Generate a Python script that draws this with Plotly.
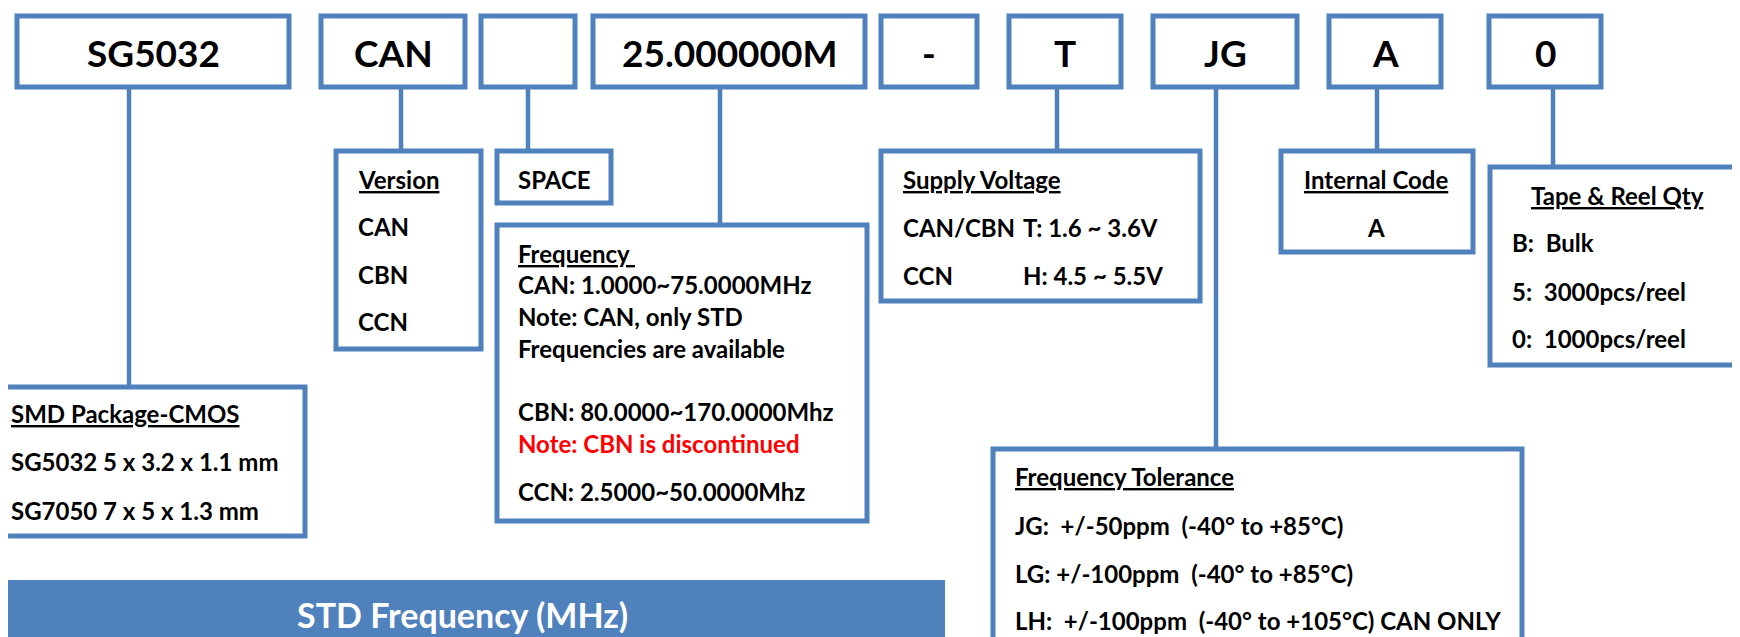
import plotly.graph_objects as go

# ---------------- content (text values) ----------------
code_labels = ["SG5032", "CAN", "", "25.000000M", "-", "T", "JG", "A", "0"]

package_title = "SMD Package-CMOS"
package_lines = ["SG5032 5 x 3.2 x 1.1 mm", "SG7050 7 x 5 x 1.3 mm"]

version_title = "Version"
version_lines = ["CAN", "CBN", "CCN"]

space_title = "SPACE"

freq_title = "Frequency\u00a0"
freq_lines = ["CAN: 1.0000~75.0000MHz", "Note: CAN, only STD", "Frequencies are available",
              "CBN: 80.0000~170.0000Mhz", "Note: CBN is discontinued", "CCN: 2.5000~50.0000Mhz"]
freq_line_colors = ["black", "black", "black", "black", "red", "black"]

supply_title = "Supply Voltage"
supply_versions = ["CAN/CBN", "CCN"]
supply_ranges = ["T: 1.6 ~ 3.6V", "H: 4.5 ~ 5.5V"]

internal_title = "Internal Code"
internal_lines = ["A"]

tape_title = "Tape & Reel Qty"
tape_lines = ["B:\u00a0 Bulk", "5:\u00a0 3000pcs/reel", "0:\u00a0 1000pcs/reel"]

tol_title = "Frequency Tolerance"
tol_lines = ["JG:\u00a0 +/-50ppm\u00a0 (-40° to +85°C)",
             "LG: +/-100ppm\u00a0 (-40° to +85°C)",
             "LH:\u00a0 +/-100ppm\u00a0 (-40° to +105°C) CAN ONLY"]

banner_title = "STD Frequency (MHz)"

# ---------------- layout geometry (pixels) ----------------
W, H = 1740, 637
BLUE = "#4F81BD"
FONT = "Lato, 'Open Sans', sans-serif"
BODY = 24

top_x0 = [9, 313, 473, 585, 873, 1001, 1145, 1321, 1481]
top_x1 = [281, 457, 567, 857, 969, 1113, 1289, 1433, 1593]
top_y0, top_y1 = 8, 79
top_text_y = 44

conn_x = [121, 393, 520, 712, 1049, 1208, 1369, 1545]
conn_y1 = [379, 143, 143, 217, 143, 441, 143, 159]

boxes = {
    "package": (-20, 379, 297, 528),
    "version": (328, 143, 473, 341),
    "space": (489, 143, 603, 195),
    "freq": (489, 217, 859, 513),
    "supply": (873, 143, 1192, 293),
    "internal": (1273, 143, 1465, 244),
    "tape": (1482, 159, 1735, 357),
    "tol": (985, 441, 1514, 660),
}

shapes = []
annotations = []

LW_BOX = 5
LW_CONN = 4.5


def rect(x0, y0, x1, y1, fill=None):
    shapes.append(dict(type="rect", xref="x", yref="y", x0=x0, y0=y0, x1=x1, y1=y1,
                       line=dict(color=BLUE, width=LW_BOX),
                       fillcolor=fill if fill else "white", layer="above"))


def text(x, y, s, size=BODY, color="black", anchor="left", underline=False, xshift=0):
    if underline:
        s = "<u>" + s + "</u>"
    annotations.append(dict(x=x, y=y, xref="x", yref="y", text=s, showarrow=False,
                            xanchor=anchor, yanchor="middle", xshift=xshift,
                            font=dict(family=FONT, size=size, color=color, weight="bold")))


# connectors
for i, cx in enumerate(conn_x):
    shapes.append(dict(type="line", xref="x", yref="y", x0=cx, x1=cx, y0=top_y1, y1=conn_y1[i],
                       line=dict(color=BLUE, width=LW_CONN), layer="above"))

# top code boxes
for i, lab in enumerate(code_labels):
    rect(top_x0[i], top_y0, top_x1[i], top_y1)
    if lab:
        text((top_x0[i] + top_x1[i]) / 2, top_text_y, lab, size=37, anchor="center")

# description boxes
for k, (x0, y0, x1, y1) in boxes.items():
    rect(x0, y0, x1, y1)

# package (text starts at the left edge)
text(1, 405, package_title, underline=True)
for s, y in zip(package_lines, [453, 502]):
    text(1, y, s)

# version
text(348, 171, version_title, underline=True)
for s, y in zip(version_lines, [218, 266, 313]):
    text(348, y, s)

# space
text(508, 171, space_title)

# frequency
text(508, 245, freq_title, underline=True)
for s, y, c in zip(freq_lines, [276, 308, 340, 403, 435, 483], freq_line_colors):
    text(508, y, s, color=c)

# supply voltage
text(893, 171, supply_title, underline=True)
for v, r, y in zip(supply_versions, supply_ranges, [219, 267]):
    text(893, y, v)
    text(1013, y, r)

# internal code
text(1368, 171, internal_title, underline=True, anchor="center")
for s in internal_lines:
    text(1368, 219, s, anchor="center")

# tape & reel
text(1609, 187, tape_title, underline=True, anchor="center")
for s, y in zip(tape_lines, [234, 283, 330]):
    text(1502, y, s)

# tolerance
text(1005, 468, tol_title, underline=True)
for s, y in zip(tol_lines, [517, 565, 612]):
    text(1005, y, s)

# banner
shapes.append(dict(type="rect", xref="x", yref="y", x0=0, y0=572, x1=937, y1=660,
                   line=dict(width=0), fillcolor=BLUE, layer="above"))
text(454, 606, banner_title, size=34, color="white", anchor="center")

fig = go.Figure()
fig.update_layout(
    width=W, height=H,
    margin=dict(l=0, r=0, t=0, b=0, pad=0),
    paper_bgcolor="white", plot_bgcolor="white",
    xaxis=dict(range=[0, W], visible=False, fixedrange=True),
    yaxis=dict(range=[H, 0], visible=False, fixedrange=True),
    shapes=shapes, annotations=annotations, showlegend=False,
)

fig.write_html("out.html")
